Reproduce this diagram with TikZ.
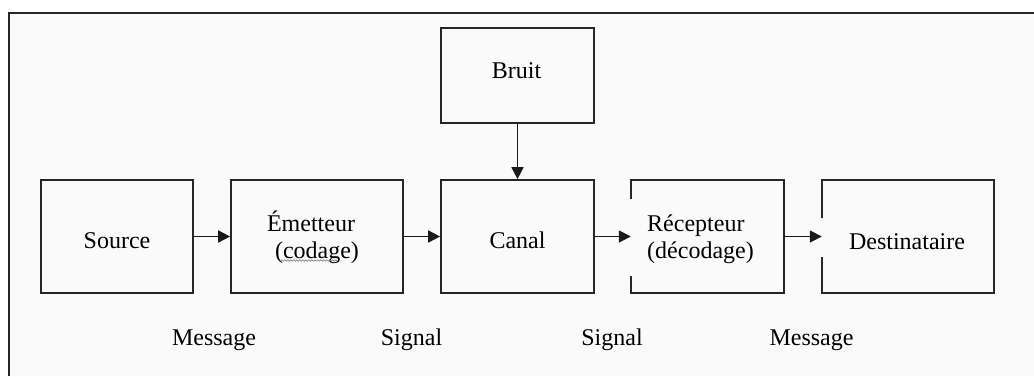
\documentclass[tikz,border=0pt]{standalone}
\usepackage{fontspec}
\setmainfont{Liberation Serif}
\usetikzlibrary{arrows.meta,calc,decorations.pathmorphing}
\begin{document}
\begin{tikzpicture}[x=1pt,y=-1pt,
  box/.style={draw=black!85,line width=1.7pt,minimum height=113pt,inner sep=0pt},
  openbox/.style={draw=none,minimum height=113pt,inner sep=0pt},
  edge/.style={draw=black!85,line width=1.7pt},
  txt/.style={font=\fontsize{24}{27}\selectfont,anchor=base,inner sep=0pt,text=black},
  arr/.style={line width=1.7pt,black!90,-{Triangle[length=12pt,width=12pt]}}
]
\useasboundingbox (0,0) rectangle (1034,376);
\fill[white] (0,0) rectangle (1034,376);
\fill[black!2] (9,13) rectangle (1034,376);
\draw[line width=2.2pt,black!85] (9,376) -- (9,13) -- (1034,13);

% boxes
\node[box,minimum width=153pt,minimum height=95pt] (bru) at (517.5,75.5) {};
\node[box,minimum width=152pt] (src) at (117,236.5) {};
\node[box,minimum width=172pt] (emi) at (317,236.5) {};
\node[box,minimum width=153pt] (can) at (517.5,236.5) {};
\node[openbox,minimum width=153pt] (rec) at (707.5,236.5) {};
\node[openbox,minimum width=172pt] (dst) at (908,236.5) {};
\draw[edge] ($(rec.north west)+(0,19)$) -- (rec.north west) -- (rec.north east)
  -- (rec.south east) -- (rec.south west) -- ($(rec.south west)+(0,-17)$);
\draw[edge] ($(dst.north west)+(0,38)$) -- (dst.north west) -- (dst.north east)
  -- (dst.south east) -- (dst.south west) -- ($(dst.south west)+(0,-36)$);

% texts in boxes
\node[txt] (tbru) at (516.5,78) {Bruit};
\node[txt] (tsrc) at (117,248) {Source};
\node[txt] (temi1) at (311,231) {Émetteur};
\node[txt] (temi2) at (317,258) {(codage)};
\node[txt] (tcan) at (517.5,248) {Canal};
\node[txt,anchor=base west] (trec1) at (647,231) {Récepteur};
\node[txt,anchor=base west] (trec2) at (647,258) {(décodage)};
\node[txt] (tdst) at (907,249) {Destinataire};
\draw[decorate,decoration={snake,amplitude=0.8pt,segment length=3pt},black!55,line width=0.6pt]
  ($(temi2.base west)+(6,2.5)$) -- ($(temi2.base east)+(-22,2.5)$);

% labels under
\node[txt] (m1) at (214,345) {Message};
\node[txt] (s1) at (411.5,345) {Signal};
\node[txt] (s2) at (612,345) {Signal};
\node[txt] (m2) at (811.5,345) {Message};

% arrows
\draw[arr] (bru) -- (can);
\draw[arr] (src) -- (emi);
\draw[arr] (emi) -- (can);
\draw[arr] (can) -- (rec);
\draw[arr] (rec) -- (dst);
\end{tikzpicture}
\end{document}
